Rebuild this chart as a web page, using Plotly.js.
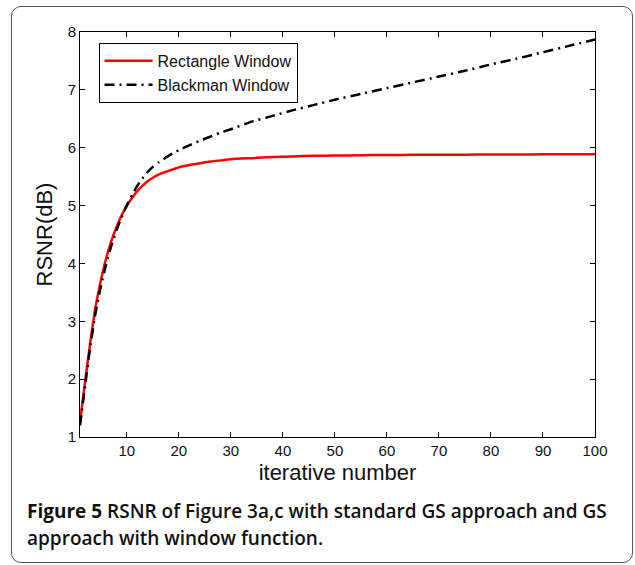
<!DOCTYPE html>
<html>
<head>
<meta charset="utf-8">
<script src="https://cdn.plot.ly/plotly-3.0.1.min.js"></script>
<style>
  html, body { margin: 0; padding: 0; background: #fff; }
  #wrap { position: relative; width: 635px; height: 565px; overflow: hidden; }
  #chart { position: absolute; left: 0; top: 0; width: 635px; height: 565px; }
  #frame { position: absolute; left: 11px; top: 6px; width: 620px; height: 555px;
           border: 1.5px solid #555; border-radius: 10px; pointer-events: none; }
  #caption { position: absolute; left: 27px; top: 498px; width: 600px;
             font-family: "Open Sans", sans-serif; font-size: 19px; line-height: 27px;
             font-weight: 600; color: #111; }
  #caption b { font-weight: 700; }
</style>
</head>
<body>
<div id="wrap">
  <div id="chart"></div>
  <div id="frame"></div>
  <div id="caption"><b>Figure 5</b> RSNR of Figure 3a,c with standard GS approach and GS<br>approach with window function.</div>
</div>
<script>
// iteration numbers
var iterations = [1,2,3,4,5,6,7,8,9,10,11,12,13,14,15,16,17,18,19,20,22,24,26,28,30,34,38,42,46,50,55,60,65,70,75,80,85,90,95,100];
// RSNR (dB) - Rectangle Window
var rectangleRSNR = [1.25,1.97,2.65,3.25,3.70,4.08,4.38,4.62,4.83,5.00,5.13,5.25,5.34,5.42,5.48,5.53,5.57,5.60,5.63,5.66,5.70,5.73,5.76,5.78,5.80,5.82,5.84,5.85,5.86,5.865,5.87,5.875,5.877,5.88,5.88,5.882,5.883,5.885,5.885,5.886];
// RSNR (dB) - Blackman Window
var blackmanRSNR = [1.20,1.90,2.58,3.15,3.60,3.98,4.30,4.57,4.80,5.00,5.18,5.34,5.47,5.58,5.67,5.74,5.80,5.86,5.91,5.96,6.04,6.12,6.19,6.26,6.32,6.45,6.55,6.65,6.74,6.83,6.93,7.03,7.13,7.23,7.33,7.44,7.54,7.65,7.76,7.87];
var seriesNames = ["Rectangle Window", "Blackman Window"];
var xTicks = [10,20,30,40,50,60,70,80,90,100];
var yTicks = [1,2,3,4,5,6,7,8];

var traces = [
  { x: iterations, y: rectangleRSNR, name: seriesNames[0], type: "scatter", mode: "lines",
    line: { color: "#ff0000", width: 2.5, shape: "spline", smoothing: 0.5 } },
  { x: iterations, y: blackmanRSNR, name: seriesNames[1], type: "scatter", mode: "lines",
    line: { color: "#000000", width: 2.5, dash: "10px,5px,2px,5px", shape: "spline", smoothing: 0.5 } }
];

var axisCommon = {
  showline: true, linecolor: "#000", linewidth: 1, mirror: "ticks",
  ticks: "inside", ticklen: 5, tickwidth: 1, tickcolor: "#000",
  showgrid: false, zeroline: false,
  tickfont: { family: "Liberation Sans, Arial, sans-serif", size: 15, color: "#111" }
};

var layout = {
  width: 635, height: 565,
  margin: { l: 80, r: 40, t: 32, b: 128 },
  paper_bgcolor: "#fff", plot_bgcolor: "#fff",
  showlegend: true,
  legend: {
    x: 0.036, y: 0.973, xanchor: "left", yanchor: "top",
    bgcolor: "#fff", bordercolor: "#000", borderwidth: 1,
    font: { family: "Liberation Sans, Arial, sans-serif", size: 16, color: "#111" },
    itemwidth: 48, tracegroupgap: 0
  },
  xaxis: Object.assign({}, axisCommon, {
    range: [1, 100], tickvals: xTicks, ticktext: xTicks.map(String),
    title: { text: "iterative number", standoff: 6,
             font: { family: "Liberation Sans, Arial, sans-serif", size: 22, color: "#111" } }
  }),
  yaxis: Object.assign({}, axisCommon, {
    range: [1, 8], tickvals: yTicks, ticktext: yTicks.map(String),
    title: { text: "RSNR(dB)", standoff: 8,
             font: { family: "Liberation Sans, Arial, sans-serif", size: 22, color: "#111" } }
  })
};

Plotly.newPlot("chart", traces, layout, { staticPlot: true, displayModeBar: false });
</script>
</body>
</html>
